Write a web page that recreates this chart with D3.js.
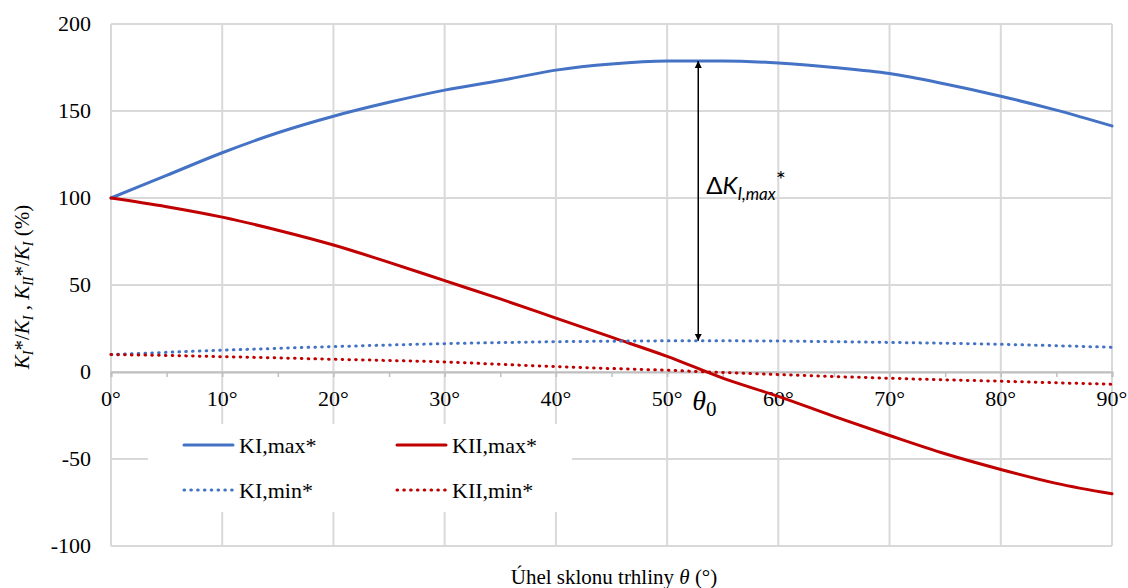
<!DOCTYPE html>
<html>
<head>
<meta charset="utf-8">
<script src="https://cdn.jsdelivr.net/npm/d3@7"></script>
<style>
  body { margin: 0; background: #fff; }
</style>
</head>
<body>
<div id="chart"></div>
<script>
// data, 5 degree steps
var angles = [0, 5, 10, 15, 20, 25, 30, 35, 40, 45, 50, 55, 60, 65, 70, 75, 80, 85, 90];
var kIMax  = [100, 113, 126, 137.5, 147, 155, 162, 167.5, 173.5, 177, 178.7, 178.8, 177.6, 175, 171.5, 165.5, 158.5, 150.5, 141.4];
var kIIMax = [100, 95, 89, 81.5, 73, 63, 52.5, 42, 31, 20, 9, -3.5, -14, -25.5, -36.5, -47, -56, -64, -70];
var kIMin  = [10, 11.3, 12.5, 13.6, 14.6, 15.5, 16.3, 16.9, 17.4, 17.7, 17.9, 17.9, 17.8, 17.4, 17, 16.5, 15.9, 15.1, 14.2];
var kIIMin = [10, 9.5, 8.8, 8.1, 7.3, 6.6, 5.8, 4.4, 3.1, 2, 1, -0.3, -1.5, -2.6, -3.6, -4.5, -5.3, -6.2, -7];
var yTicks = [-100, -50, 0, 50, 100, 150, 200];
var xTicks = [0, 10, 20, 30, 40, 50, 60, 70, 80, 90];
var theta0 = 52.8;

var series = [
  {name: "KI,max*",  values: kIMax,  color: "#4472C4", dotted: false},
  {name: "KII,max*", values: kIIMax, color: "#C00000", dotted: false},
  {name: "KI,min*",  values: kIMin,  color: "#4472C4", dotted: true},
  {name: "KII,min*", values: kIIMin, color: "#C00000", dotted: true}
];

var serif = "Times New Roman, Liberation Serif, DejaVu Serif, serif";

var W = 1128, H = 588;
var margin = {top: 24, right: 16, bottom: 42, left: 111};
var width = W - margin.left - margin.right,
    height = H - margin.top - margin.bottom;

var svg = d3.select("#chart").append("svg")
    .attr("width", W).attr("height", H)
    .attr("font-family", serif);

var defs = svg.append("defs");
defs.append("marker")
    .attr("id", "arrow")
    .attr("viewBox", "0 0 10 10")
    .attr("refX", 10).attr("refY", 5)
    .attr("markerWidth", 7).attr("markerHeight", 8)
    .attr("markerUnits", "userSpaceOnUse")
    .attr("orient", "auto-start-reverse")
    .append("path").attr("d", "M0,0 L10,5 L0,10 Z").attr("fill", "#000");

var g = svg.append("g")
    .attr("transform", "translate(" + margin.left + "," + margin.top + ")");

var x = d3.scaleLinear().domain([0, 90]).range([0, width]);
var y = d3.scaleLinear().domain([-100, 200]).range([height, 0]);

// gridlines
g.append("g").selectAll("line").data(yTicks).join("line")
    .attr("x1", 0).attr("x2", width)
    .attr("y1", d => y(d)).attr("y2", d => y(d))
    .attr("stroke", "#d9d9d9").attr("stroke-width", 2);
g.append("g").selectAll("line").data(xTicks).join("line")
    .attr("x1", d => x(d)).attr("x2", d => x(d))
    .attr("y1", 0).attr("y2", height)
    .attr("stroke", "#d9d9d9").attr("stroke-width", 2);

// y tick labels
g.append("g").selectAll("text").data(yTicks).join("text")
    .attr("x", -20).attr("y", d => y(d) + 7)
    .attr("text-anchor", "end")
    .attr("font-family", serif)
    .attr("font-size", 22).attr("fill", "#000")
    .text(d => d);

// x axis at zero, minor ticks every 5 degrees
var xAxis = g.append("g")
    .attr("transform", "translate(0," + y(0) + ")")
    .call(d3.axisBottom(x).tickValues(d3.range(0, 91, 5)).tickSize(5).tickFormat(""));
xAxis.select(".domain").attr("stroke", "#bfbfbf").attr("stroke-width", 2);
xAxis.selectAll(".tick line").attr("stroke", "#bfbfbf").attr("stroke-width", 1.5);

g.append("g").selectAll("text").data(xTicks).join("text")
    .attr("x", d => x(d)).attr("y", y(0) + 34)
    .attr("text-anchor", "middle")
    .attr("font-family", serif)
    .attr("font-size", 22).attr("fill", "#000")
    .text(d => d + "°");

// lines
var line = d3.line()
    .x((d, i) => x(angles[i]))
    .y(d => y(d))
    .curve(d3.curveMonotoneX);

series.forEach(function(s) {
  g.append("path")
    .datum(s.values)
    .attr("fill", "none")
    .attr("stroke", s.color)
    .attr("stroke-width", 3)
    .attr("stroke-linecap", "round")
    .attr("stroke-dasharray", s.dotted ? "0.6 6.2" : null)
    .attr("d", line);
});

// double arrow for delta KI,max
var arrTop = d3.max(kIMax), arrBot = d3.max(kIMin);
g.append("line")
    .attr("x1", x(theta0)).attr("x2", x(theta0))
    .attr("y1", y(arrBot)).attr("y2", y(arrTop))
    .attr("stroke", "#000").attr("stroke-width", 1.5)
    .attr("marker-start", "url(#arrow)")
    .attr("marker-end", "url(#arrow)");

var dl = g.append("text")
    .attr("x", x(theta0) + 8).attr("y", 170)
    .attr("font-family", "Lato, Open Sans, sans-serif")
    .attr("font-size", 24).attr("fill", "#000");
dl.append("tspan").text("Δ");
dl.append("tspan").attr("font-style", "italic").text("K");
dl.append("tspan").attr("font-style", "italic").attr("font-size", 17).attr("dy", 6).text("I,max");
dl.append("tspan").attr("font-size", 24).attr("dy", -12).text("*");

// theta0 label
var t0 = g.append("text")
    .attr("x", x(theta0) - 6).attr("y", y(0) + 38)
    .attr("font-family", serif)
    .attr("font-size", 28).attr("fill", "#000");
t0.append("tspan").attr("font-style", "italic").text("θ");
t0.append("tspan").attr("font-size", 21).attr("dy", 6).text("0");

// legend with white box
var leg = g.append("g");
leg.append("rect")
    .attr("x", 148 - margin.left).attr("y", 424 - margin.top)
    .attr("width", 424).attr("height", 88)
    .attr("fill", "#fff");
var legPos = [[184, 445], [397, 445], [184, 490], [397, 490]];
series.forEach(function(s, i) {
  var px = legPos[i][0] - margin.left, py = legPos[i][1] - margin.top;
  leg.append("line")
    .attr("x1", px).attr("x2", px + 49)
    .attr("y1", py).attr("y2", py)
    .attr("stroke", s.color)
    .attr("stroke-width", 3)
    .attr("stroke-linecap", "round")
    .attr("stroke-dasharray", s.dotted ? "0.6 6.2" : null);
  leg.append("text")
    .attr("x", px + 55).attr("y", py + 8)
    .attr("font-family", serif)
    .attr("font-size", 22).attr("fill", "#000")
    .text(s.name);
});

// axis titles
var xt = svg.append("text")
    .attr("x", 614).attr("y", 584)
    .attr("text-anchor", "middle")
    .attr("font-family", serif)
    .attr("font-size", 21).attr("fill", "#000");
xt.append("tspan").text("Úhel sklonu trhliny ");
xt.append("tspan").attr("font-style", "italic").text("θ");
xt.append("tspan").text(" (°)");

var yt = svg.append("text")
    .attr("transform", "translate(29," + 287 + ") rotate(-90)")
    .attr("text-anchor", "middle")
    .attr("font-family", serif)
    .attr("font-size", 21).attr("fill", "#000");
yt.append("tspan").attr("font-style", "italic").text("K");
yt.append("tspan").attr("font-style", "italic").attr("font-size", 14).attr("dy", 4).text("I");
yt.append("tspan").attr("dy", -4).text("*/");
yt.append("tspan").attr("font-style", "italic").text("K");
yt.append("tspan").attr("font-style", "italic").attr("font-size", 14).attr("dy", 4).text("I");
yt.append("tspan").attr("dy", -4).text(" , ");
yt.append("tspan").attr("font-style", "italic").text("K");
yt.append("tspan").attr("font-style", "italic").attr("font-size", 14).attr("dy", 4).text("II");
yt.append("tspan").attr("dy", -4).text("*/");
yt.append("tspan").attr("font-style", "italic").text("K");
yt.append("tspan").attr("font-style", "italic").attr("font-size", 14).attr("dy", 4).text("I");
yt.append("tspan").attr("dy", -4).text(" (%)");
</script>
</body>
</html>
